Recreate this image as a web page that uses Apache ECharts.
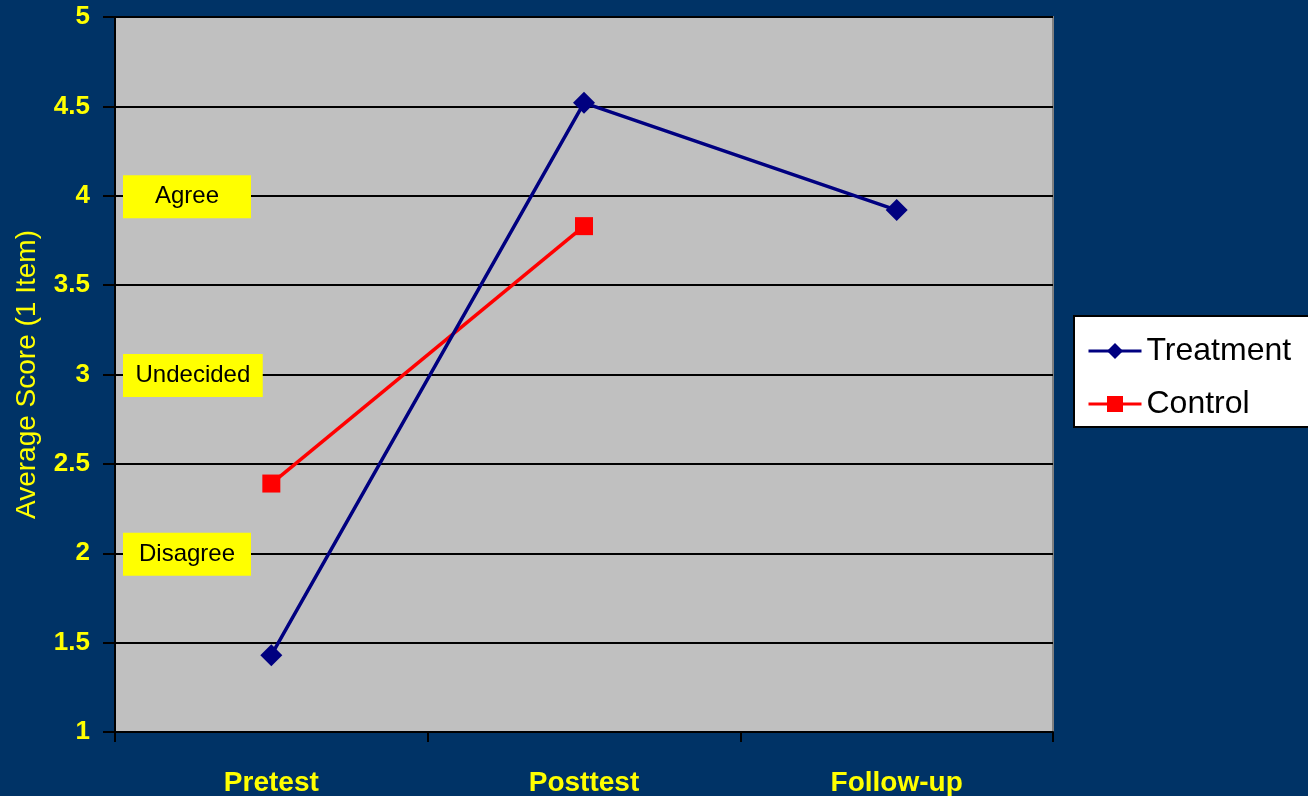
<!DOCTYPE html>
<html>
<head>
<meta charset="utf-8">
<script src="https://cdn.jsdelivr.net/npm/echarts@6/dist/echarts.min.js"></script>
<style>
html,body{margin:0;padding:0;background:#003366;}
#chart{width:1308px;height:796px;}
</style>
</head>
<body>
<div id="chart"></div>
<script>
const categories = ['Pretest', 'Posttest', 'Follow-up'];
const treatment = [1.43, 4.52, 3.92];
const control = [2.39, 3.83, null];
const yTicks = [1, 1.5, 2, 2.5, 3, 3.5, 4, 4.5, 5];
const annotationLabels = ['Agree', 'Undecided', 'Disagree'];
const annotationValues = [4, 3, 2];

const FONT = '"Liberation Sans", Arial, sans-serif';
const YELLOW = '#FFFF00';

const chart = echarts.init(document.getElementById('chart'));
const option = {
  backgroundColor: '#003366',
  animation: false,
  grid: {
    left: 115, right: 255, top: 17, bottom: 64,
    outerBoundsMode: 'none', containLabel: false,
    show: true, backgroundColor: '#C0C0C0', borderColor: '#808080', borderWidth: 2
  },
  legend: {
    orient: 'vertical',
    left: 1074, top: 316,
    backgroundColor: '#FFFFFF',
    borderColor: '#000000', borderWidth: 2, borderRadius: 0,
    padding: [19, 30, 7, 13],
    itemWidth: 53, itemHeight: 20, itemGap: 21, itemTextGap: 10,
    lineStyle: { width: 3 },
    textStyle: { color: '#000000', fontSize: 32, fontFamily: FONT },
    data: ['Treatment', 'Control']
  },
  xAxis: {
    type: 'category',
    data: categories,
    boundaryGap: true,
    axisLine: { lineStyle: { color: '#000000', width: 2 } },
    axisTick: { show: true, length: 10, lineStyle: { color: '#000000', width: 2 } },
    axisLabel: { color: YELLOW, fontSize: 28, fontWeight: 'bold', fontFamily: FONT, margin: 37 },
    splitLine: { show: false }
  },
  yAxis: {
    type: 'value',
    min: yTicks[0], max: yTicks[yTicks.length - 1], interval: yTicks[1] - yTicks[0],
    name: 'Average Score (1 Item)',
    nameLocation: 'middle', nameGap: 74, nameRotate: 90,
    nameTextStyle: { color: YELLOW, fontSize: 28, fontFamily: FONT },
    axisLine: { show: true, lineStyle: { color: '#000000', width: 2 } },
    axisTick: { show: true, length: 12, lineStyle: { color: '#000000', width: 2 } },
    axisLabel: { color: YELLOW, fontSize: 26, fontWeight: 'bold', fontFamily: FONT, margin: 25 },
    splitLine: { show: true, lineStyle: { color: '#000000', width: 2 } }
  },
  series: [
    {
      name: 'Treatment', type: 'line', data: treatment,
      symbol: 'diamond', symbolSize: 22,
      lineStyle: { color: '#000080', width: 3.5 },
      itemStyle: { color: '#000080' },
      z: 3
    },
    {
      name: 'Control', type: 'line', data: control,
      symbol: 'rect', symbolSize: 18,
      lineStyle: { color: '#FF0000', width: 3.5 },
      itemStyle: { color: '#FF0000' },
      z: 2
    }
  ]
};
chart.setOption(option);

// annotation boxes anchored to y-axis values
const ctx = document.createElement('canvas').getContext('2d');
ctx.font = '24px ' + FONT;
const graphics = annotationLabels.map((label, i) => {
  const y = chart.convertToPixel({ yAxisIndex: 0 }, annotationValues[i]);
  const tw = ctx.measureText(label).width;
  const w = Math.max(128, tw + 25);
  const h = 43;
  return {
    type: 'group',
    left: 123, top: y - h / 2 + 1,
    z: 10,
    children: [
      { type: 'rect', shape: { x: 0, y: 0, width: w, height: h }, style: { fill: YELLOW } },
      { type: 'text', x: w / 2, y: h / 2,
        style: { text: label, fill: '#000000', font: '24px ' + FONT, align: 'center', verticalAlign: 'middle' } }
    ]
  };
});
chart.setOption({ graphic: graphics });
</script>
</body>
</html>
